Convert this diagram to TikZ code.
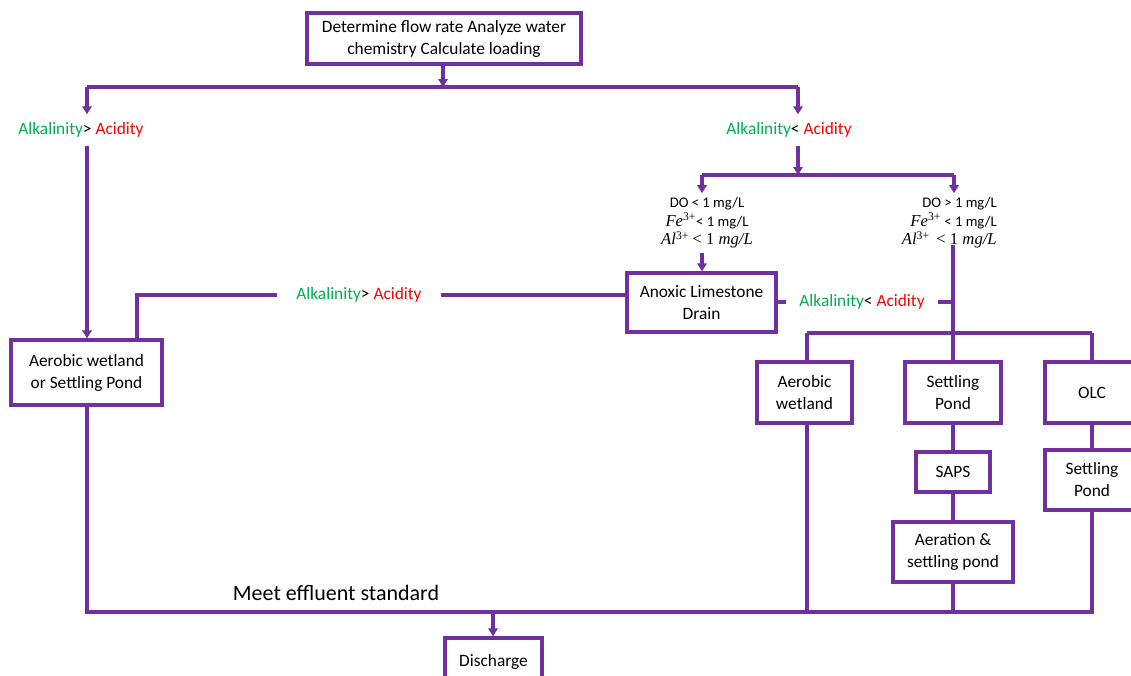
\documentclass[tikz,border=0pt]{standalone}
\usepackage{fontspec}
\setmainfont{Carlito}
\newfontfamily\cmb{Liberation Serif}
\usetikzlibrary{arrows.meta}
\definecolor{purp}{HTML}{7030A0}
\definecolor{grn}{HTML}{00B050}
\definecolor{rd}{HTML}{FF0000}
\newcommand\alk[1]{\textcolor{grn}{Alkalinity}#1 \textcolor{rd}{Acidity}}
\newcommand\srf{\cmb\fontsize{12.5}{14}\selectfont}
\newcommand\ion[1]{{\srf\itshape #1\textsuperscript{\upshape 3+}}}
\begin{document}
\begin{tikzpicture}[x=0.75pt,y=-0.75pt,
  line/.style={draw=purp,line width=2.4pt},
  arr/.style={line,-{Triangle[width=7pt,length=6pt]}},
  box/.style 2 args={draw=purp,line width=2.4pt,fill=white,minimum width=#1*0.75pt,minimum height=#2*0.75pt,inner sep=0pt,align=center,font=\fontsize{13}{16.5}\selectfont},
  lbl/.style={inner sep=6pt,font=\fontsize{13}{16}\selectfont},
  cond/.style={inner sep=3pt,font=\fontsize{11}{14}\selectfont},
]
\useasboundingbox (0,0) rectangle (1131,675);
% nodes
\node[box={274}{51}] (top) at (444,38.5) {Determine flow rate Analyze water\\chemistry Calculate loading};
\node[lbl] (la1) at (81,130) {\alk{>}};
\node[lbl] (la2) at (789,130) {\alk{<}};
\node[cond,align=center] (do1) at (707,223) {DO < 1 mg/L\\\ion{Fe}< 1 mg/L\\\ion{Al} {\srf< 1 \itshape mg/L}};
\node[cond,align=right,anchor=east] (do2) at (1001,223) {DO > 1 mg/L\\\ion{Fe} < 1 mg/L\\\ion{Al}\ \ {\srf< 1 \itshape mg/L}};
\node[box={149}{59}] (ald) at (701.5,302.5) {Anoxic Limestone\\Drain};
\node[box={151}{65}] (aer1) at (86.5,372.5) {Aerobic wetland\\or Settling Pond};
\node[lbl,inner xsep=14pt] (la3) at (359,295) {\alk{>}};
\node[lbl,inner xsep=10pt] (la4) at (862,302) {\alk{<}};
\node[box={95}{61}] (aw) at (804.5,392.5) {Aerobic\\wetland};
\node[box={96}{61}] (sp1) at (953,392.5) {Settling\\Pond};
\node[box={94}{61}] (olc) at (1092,392.5) {OLC};
\node[box={94}{60}] (sp2) at (1092,480) {Settling\\Pond};
\node[box={74}{40}] (saps) at (953,472) {SAPS};
\node[box={120}{60}] (aer2) at (953,552) {Aeration \&\\settling pond};
\node[box={97}{48}] (dis) at (493.5,662) {Discharge};
\node[font=\fontsize{16.5}{20}\selectfont] (meet) at (336,593) {Meet effluent standard};
% junction coordinates
\coordinate (j1) at (443,87);
\coordinate (jl) at (87,87);
\coordinate (jr) at (798,87);
\coordinate (j2) at (798,175);
\coordinate (j2l) at (702,175);
\coordinate (j2r) at (954,175);
\coordinate (c1) at (137,295);
\coordinate (v1) at (953,245);
\coordinate (j3) at (953,302);
\coordinate (j4) at (953,333);
\coordinate (h1) at (807,333);
\coordinate (h2) at (1092,333);
\coordinate (b1) at (87,612);
\coordinate (b2) at (1092,612);
\coordinate (bd) at (493,612);
% connectors
\draw[arr] (top.south -| j1) -- (j1);
\draw[line] (jl) -- (jr);
\draw[arr] (jl) -- (jl |- la1.north);
\draw[arr] (jr) -- (jr |- la2.north);
\draw[arr] (jl |- la1.south) -- (jl |- aer1.north);
\draw[arr] (j2 |- la2.south) -- (j2);
\draw[line] (j2l) -- (j2r);
\draw[arr] (j2l) -- (j2l |- do1.north);
\draw[arr] (j2r) -- (j2r |- do2.north);
\draw[arr] (j2l |- do1.south) -- (j2l |- ald.north);
\draw[line] (la3.east) -- (la3.east -| ald.west);
\draw[line] (la3.west) -- (c1) -- (c1 |- aer1.north);
\draw[line] (ald.east |- la4) -- (la4.west);
\draw[line] (la4.east) -- (j3);
\draw[line] (v1) -- (j4);
\draw[line] (h1) -- (h2);
\draw[line] (h1) -- (h1 |- aw.north);
\draw[line] (j4) -- (j4 |- sp1.north);
\draw[line] (h2) -- (h2 |- olc.north);
\draw[line] (sp1.south) -- (saps.north);
\draw[line] (saps.south) -- (aer2.north);
\draw[line] (olc.south) -- (sp2.north);
\draw[line] (b1 |- aer1.south) -- (b1) -- (b2) -- (b2 |- sp2.south);
\draw[line] (h1 |- aw.south) -- (h1 |- b1);
\draw[line] (aer2.south) -- (aer2.south |- b1);
\draw[arr] (bd) -- (bd |- dis.north);
\end{tikzpicture}
\end{document}
